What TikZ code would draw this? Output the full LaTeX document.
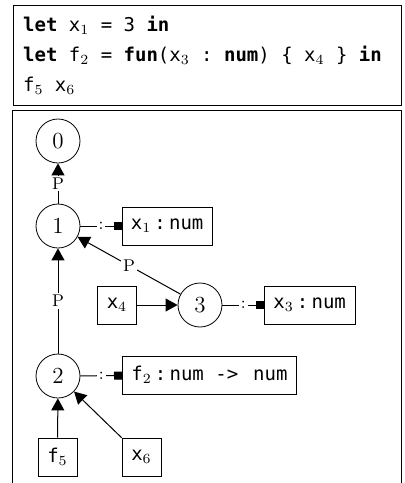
\documentclass[tikz,border=0pt]{standalone}
\usepackage{fontspec}
\setmonofont{DejaVu Sans Mono}
\usetikzlibrary{arrows.meta}

\newcommand{\codefont}{\ttfamily\fontsize{9.5}{15}\selectfont}
\newcommand{\ws}{\hspace{0.602em}}

\begin{document}
\begin{tikzpicture}[x=0.5pt,y=-0.5pt]
   \tikzstyle{scope}=[draw, circle, minimum size=22pt, inner sep=0pt, font=\fontsize{11.5}{14}\selectfont]
   \tikzstyle{decl}=[draw, rectangle, minimum height=19pt, minimum width=19.5pt, inner xsep=4.5pt, font=\codefont]
   \tikzstyle{elabel}=[fill=white, inner sep=1pt, font=\fontsize{8.5}{10}\selectfont]
   \tikzstyle{parent}=[-{Triangle[length=6pt,width=6.5pt]}, line width=0.5pt]
   \tikzstyle{typeof}=[-{Square[length=4pt,width=4pt]}, line width=0.5pt]

\useasboundingbox (0,0) rectangle (405,483);

% program text
\node[draw, anchor=north west, minimum width=194.25pt, minimum height=50pt, text width=184pt, align=left, inner xsep=4.75pt, font=\codefont] (prog) at (12.5,5)
    {\textbf{let}\ws x$_1$\ws=\ws3\ws\textbf{in}\\
     \textbf{let}\ws f$_2$\ws=\ws\textbf{fun}(x$_3$\ws:\ws\textbf{num})\ws\{\ws x$_4$\ws\}\ws\textbf{in}\\
     f$_5$\ws x$_6$};

% scope graph frame
\draw (12.5,110) rectangle (401,520);

\node[scope] (s0) at (58,141) {0};
\node[scope] (s1) at (58,226) {1};
\node[scope] (s2) at (58,376) {2};
\node[scope] (s3) at (200,305) {3};

\node[decl, anchor=west] (d1) at (121.5,226) {x$_1$\,:\,num};
\node[decl, anchor=west] (d3) at (264,305) {x$_3$\,:\,num};
\node[decl, anchor=west] (d2) at (122,375) {f$_2$\,:\,num\ws->\hspace{7.5pt}num};

\node[decl] (r4) at (117,305) {x$_4$};
\node[decl] (r5) at (57.5,457) {f$_5$};
\node[decl] (r6) at (141.5,457) {x$_6$};

\draw[parent] (s1) -- node[elabel] {P} (s0);
\draw[parent] (s2) -- node[elabel] {P} (s1);
\draw[parent] (s3) -- node[elabel] {P} (s1);

\draw[typeof] (s1) -- node[elabel] {:} (d1);
\draw[typeof] (s3) -- node[elabel] {:} (d3);
\draw[typeof] (s2) -- node[elabel] {:} (d2);

\draw[parent] (r4) -- (s3);
\draw[parent] (r5) -- (s2);
\draw[parent] (r6) -- (s2);

\end{tikzpicture}
\end{document}
